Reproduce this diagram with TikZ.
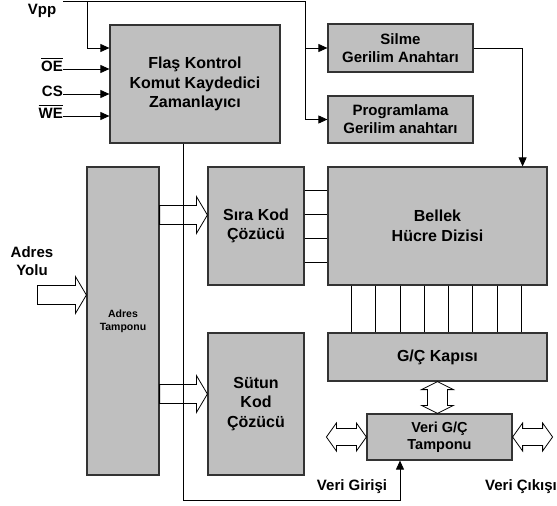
\documentclass[tikz,border=0pt]{standalone}
\usepackage{fontspec}
\setmainfont{Liberation Sans}
\usetikzlibrary{arrows.meta,calc}

\newcommand{\ovl}[1]{\leavevmode\vbox{\hrule height 0.9pt\kern2pt\hbox{#1}}}
\newcommand{\fatarrow}[2]{%
  \draw[fat] let \p1=(#1), \p2=(#2) in
    (\x1,\y1+9.5pt) -- (\x2-11pt,\y1+9.5pt) -- (\x2-11pt,\y1+18.5pt) -- (\x2,\y1)
    -- (\x2-11pt,\y1-18.5pt) -- (\x2-11pt,\y1-9.5pt) -- (\x1,\y1-9.5pt) -- cycle;}
\newcommand{\fatdouble}[2]{%
  \draw[fat] let \p1=(#1), \p2=(#2) in
    (\x1,\y1) -- (\x1+10pt,\y1+14pt) -- (\x1+10pt,\y1+8.5pt) -- (\x2-10pt,\y1+8.5pt)
    -- (\x2-10pt,\y1+14pt) -- (\x2,\y1) -- (\x2-10pt,\y1-14pt) -- (\x2-10pt,\y1-8.5pt)
    -- (\x1+10pt,\y1-8.5pt) -- (\x1+10pt,\y1-14pt) -- cycle;}
\newcommand{\fatdoublev}[2]{%
  \draw[fat] let \p1=(#1), \p2=(#2) in
    (\x1,\y1) -- (\x1+16pt,\y1-8pt) -- (\x1+10pt,\y1-8pt) -- (\x1+10pt,\y2+8pt)
    -- (\x1+16pt,\y2+8pt) -- (\x1,\y2) -- (\x1-16pt,\y2+8pt) -- (\x1-10pt,\y2+8pt)
    -- (\x1-10pt,\y1-8pt) -- (\x1-16pt,\y1-8pt) -- cycle;}

\begin{document}
\begin{tikzpicture}[x=1pt, y=-1pt,
    box/.style={draw=black!80, line width=1.2pt, fill=black!25, align=center, inner sep=0pt,
                font=\bfseries\fontsize{16}{19.5}\selectfont},
    smallbox/.style={box, font=\bfseries\fontsize{15}{18}\selectfont},
    wire/.style={line width=0.8pt},
    arr/.style={wire, -{Triangle[length=9pt,width=8pt]}},
    fat/.style={line width=0.8pt},
    lbl/.style={font=\bfseries\fontsize{15}{18}\selectfont, align=center, inner sep=0pt}
]
\useasboundingbox (0,0) rectangle (557,506);

\node[box, minimum width=170pt, minimum height=118pt] (flas) at (195,84) {Flaş Kontrol\\Komut Kaydedici\\Zamanlayıcı};
\node[smallbox, minimum width=145pt, minimum height=48pt] (silme) at (400.5,48) {Silme\\Gerilim Anahtarı};
\node[smallbox, minimum width=145pt, minimum height=47pt] (prog) at (400.5,119.5) {Programlama\\Gerilim anahtarı};
\node[box, minimum width=72pt, minimum height=308pt, font=\bfseries\fontsize{10.5}{13}\selectfont] (adres) at (123,321) {Adres\\Tamponu};
\node[box, minimum width=96pt, minimum height=118pt] (sira) at (256,226) {Sıra Kod\\Çözücü};
\node[box, minimum width=96pt, minimum height=142pt] (sutun) at (256,404) {Sütun\\Kod\\Çözücü};
\node[box, minimum width=219pt, minimum height=118pt] (bellek) at (437.5,226) {Bellek\\Hücre Dizisi};
\node[box, minimum width=219pt, minimum height=48pt] (gc) at (437.5,357) {G/Ç Kapısı};
\node[smallbox, minimum width=145pt, minimum height=46pt, font=\bfseries\fontsize{14.5}{17}\selectfont] (veri) at (439.5,437) {Veri G/Ç\\Tamponu};

\node[lbl] (vpplbl) at (42,11) {Vpp};
\node[lbl, anchor=mid east] (oe) at (63,69) {\ovl{OE}};
\node[lbl, anchor=mid east] (cs) at (63,94) {CS};
\node[lbl, anchor=mid east] (we) at (63,116) {\ovl{WE}};
\node[lbl] (yolulbl) at (32,261) {Adres\\Yolu};
\node[lbl] (giris) at (352,487) {Veri Girişi};
\node[lbl] (cikis) at (521,487) {Veri Çıkışı};

\coordinate (vpp) at (63,1);
\coordinate (vppin) at (87,1);
\coordinate (bus) at (305,1);
\draw[wire] (vpp) -- (bus);
\draw[arr] (vppin) |- (flas.west |- silme.west);
\draw[arr] (bus) |- (silme.west);
\draw[arr] (bus) |- (prog.west);

\draw[arr] (oe.mid east) -- (flas.west |- oe.mid east);
\draw[arr] (cs.mid east) -- (flas.west |- cs.mid east);
\draw[arr] (we.mid east) -- (flas.west |- we.mid east);

\draw[arr] (silme.east) -| ([xshift=-25pt]bellek.north east);
\draw[arr] ([xshift=-12pt]flas.south) -- ++(0,357) -| ([xshift=-39.5pt]veri.south);

\foreach \dy in {-36,-12,12,36}
  \draw[wire] ([yshift=\dy pt]sira.east) -- ([yshift=\dy pt]bellek.west);
\foreach \dx in {24,48.25,72.5,96.75,121,145.25,169.5,193.75}
  \draw[wire] ([xshift=\dx pt]bellek.south west) -- ([xshift=\dx pt]gc.north west);

\coordinate (rowin) at ([yshift=11pt]sira.west);
\coordinate (colin) at ([yshift=10pt]sutun.west);
\coordinate (yolu) at ([yshift=26pt]adres.west);
\fatarrow{adres.east |- rowin}{rowin}
\fatarrow{adres.east |- colin}{colin}
\fatarrow{[xshift=-49pt]yolu}{yolu}
\fatdoublev{gc.south}{gc.south |- veri.north}
\fatdouble{[xshift=-40pt]veri.west}{veri.west}
\fatdouble{veri.east}{[xshift=40pt]veri.east}

\end{tikzpicture}
\end{document}
